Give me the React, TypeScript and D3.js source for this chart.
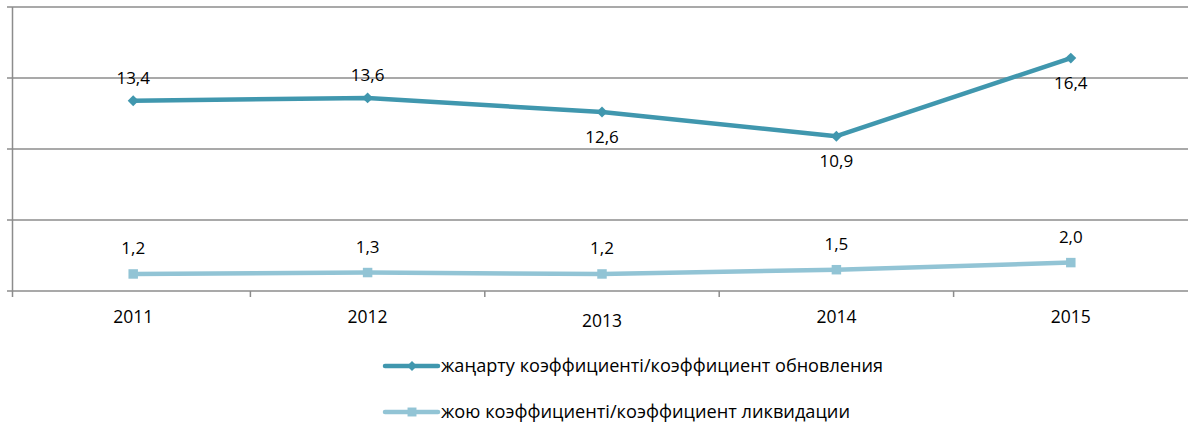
import React, { useRef, useEffect } from 'react';
import * as d3 from 'd3';

const years = ['2011', '2012', '2013', '2014', '2015'];
const renewal = [13.4, 13.6, 12.6, 10.9, 16.4];
const liquidation = [1.2, 1.3, 1.2, 1.5, 2.0];
const renewalLabelPos = ['above', 'above', 'below', 'below', 'below'];
const yTicks = [0, 5, 10, 15, 20];
const seriesNames = [
  'жаңарту коэффициенті/коэффициент обновления',
  'жою коэффициенті/коэффициент ликвидации',
];

const W = 1188;
const H = 428;
const font = '"Open Sans", "Noto Sans", sans-serif';

const App = () => {
  const ref = useRef<SVGSVGElement>(null);

  useEffect(() => {
    const svg = d3.select(ref.current);
    svg.selectAll('*').remove();

    const x = d3.scaleBand().domain(years).range([16, 1188]);
    const y = d3.scaleLinear().domain([0, 20]).range([291, 7]);
    const cx = (d: string) => (x(d) as number) + x.bandwidth() / 2;
    const fmt = (v: number) => v.toFixed(1).replace('.', ',');

    const grid = svg.append('g');
    grid.selectAll('line.grid').data(yTicks).enter().append('line')
      .attr('x1', 7).attr('x2', W)
      .attr('y1', d => y(d)).attr('y2', d => y(d))
      .attr('stroke', '#8c8c8c').attr('stroke-width', 1.5);

    // y axis line
    grid.append('line')
      .attr('x1', 12.5).attr('x2', 12.5).attr('y1', y(20)).attr('y2', y(0) + 6)
      .attr('stroke', '#8c8c8c').attr('stroke-width', 1.5);

    // category tick marks
    const tickXs = years.slice(1).map(d => x(d) as number);
    grid.selectAll('line.tk').data(tickXs).enter().append('line')
      .attr('x1', d => d).attr('x2', d => d)
      .attr('y1', y(0)).attr('y2', y(0) + 6)
      .attr('stroke', '#8c8c8c').attr('stroke-width', 1.5);

    svg.append('g').selectAll('text').data(years).enter().append('text')
      .attr('x', d => cx(d)).attr('y', (d, i) => i === 2 ? 327 : 323)
      .attr('text-anchor', 'middle')
      .attr('font-family', font).attr('font-size', 17.5).attr('fill', '#000')
      .text(d => d);

    const mk = d3.line<number>().x((_, i) => cx(years[i])).y(d => y(d));

    const drawSeries = (vals: number[], color: string, diamond: boolean, size: number) => {
      svg.append('path').datum(vals).attr('d', mk)
        .attr('fill', 'none').attr('stroke', color).attr('stroke-width', 4.5)
        .attr('stroke-linejoin', 'round');
      svg.append('g').selectAll('path').data(vals).enter().append('path')
        .attr('d', d3.symbol().type(d3.symbolSquare).size(size)())
        .attr('transform', (d, i) => `translate(${cx(years[i])},${y(d)})` + (diamond ? ' rotate(45)' : ''))
        .attr('fill', color);
    };

    drawSeries(liquidation, '#92c4d5', false, 90);
    drawSeries(renewal, '#4097ae', true, 60);

    svg.append('g').selectAll('text').data(renewal).enter().append('text')
      .attr('x', (_, i) => cx(years[i]))
      .attr('y', (d, i) => renewalLabelPos[i] === 'above' ? y(d) - 17 : y(d) + 31)
      .attr('text-anchor', 'middle')
      .attr('font-family', font).attr('font-size', 17).attr('fill', '#000')
      .text(d => fmt(d));

    svg.append('g').selectAll('text').data(liquidation).enter().append('text')
      .attr('x', (_, i) => cx(years[i]))
      .attr('y', d => y(d) - 20)
      .attr('text-anchor', 'middle')
      .attr('font-family', font).attr('font-size', 17).attr('fill', '#000')
      .text(d => fmt(d));

    // legend
    const legendColors = ['#4097ae', '#92c4d5'];
    const lg = svg.append('g');
    seriesNames.forEach((name, i) => {
      const ly = 366 + i * 46;
      lg.append('line').attr('x1', 385).attr('x2', 438).attr('y1', ly).attr('y2', ly)
        .attr('stroke', legendColors[i]).attr('stroke-width', 4.5).attr('stroke-linecap', 'round');
      lg.append('path')
        .attr('d', d3.symbol().type(d3.symbolSquare).size(i === 0 ? 50 : 80)())
        .attr('transform', `translate(412,${ly})` + (i === 0 ? ' rotate(45)' : ''))
        .attr('fill', legendColors[i]);
      lg.append('text').attr('x', 441).attr('y', ly + 6)
        .attr('font-family', font).attr('font-size', 17.5).attr('fill', '#000')
        .attr('textLength', i === 0 ? 442 : 409).attr('lengthAdjust', 'spacingAndGlyphs')
        .text(name);
    });
  }, []);

  return (
    <div style={{ position: 'fixed', left: 0, top: 0 }}>
      <svg ref={ref} width={W} height={H} style={{ display: 'block', background: '#fff' }} />
    </div>
  );
};

export default App;
